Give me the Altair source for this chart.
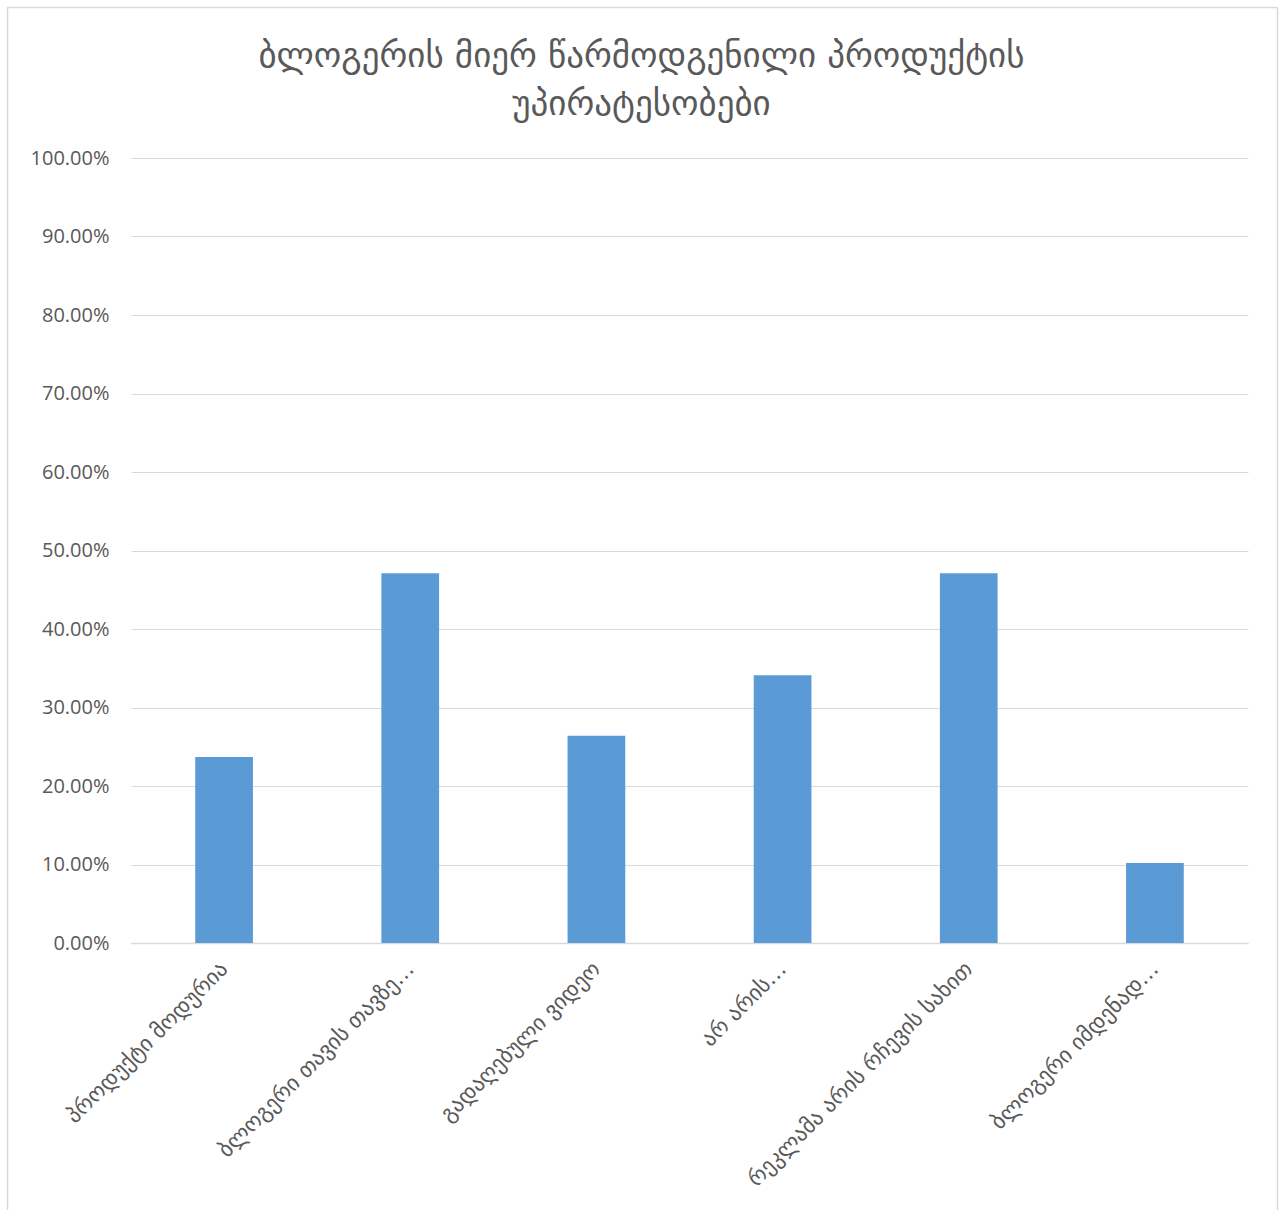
import altair as alt
import pandas as pd

title_lines = ["ბლოგერის მიერ წარმოდგენილი პროდუქტის", "უპირატესობები"]
categories = [
    "პროდუქტი მოდურია",
    "ბლოგერი თავის თავზე…",
    "გადაღებული ვიდეო",
    "არ არის…",
    "რეკლამა არის რჩევის სახით",
    "ბლოგერი იმდენად…",
]
values = [0.237, 0.471, 0.264, 0.341, 0.471, 0.102]

df = pd.DataFrame({"category": categories, "value": values})

GEO_FONT = "DejaVu Sans"
NUM_FONT = "Open Sans"
GRAY = "#595959"
PLOT_W, PLOT_H = 1117, 785
PAD = {"left": 131, "top": 158, "right": 40, "bottom": 267}

bars = (
    alt.Chart(df)
    .mark_bar(color="#5B9BD5")
    .encode(
        x=alt.X(
            "category:N",
            sort=categories,
            title=None,
            scale=alt.Scale(paddingInner=0.69, paddingOuter=0.345),
            axis=alt.Axis(
                labelAngle=-45,
                labelAlign="right",
                labelBaseline="middle",
                labelFont=GEO_FONT,
                labelFontSize=22,
                labelColor=GRAY,
                labelPadding=22,
                labelLimit=500,
                ticks=False,
                domainColor="#d9d9d9",
                domainWidth=1.5,
                grid=False,
            ),
        ),
        y=alt.Y(
            "value:Q",
            title=None,
            scale=alt.Scale(domain=[0, 1]),
            axis=alt.Axis(
                format=".2%",
                values=[i / 10 for i in range(11)],
                labelFont=NUM_FONT,
                labelFontSize=20,
                labelColor=GRAY,
                labelPadding=22,
                ticks=False,
                domain=False,
                gridColor="#d9d9d9",
                gridWidth=1.2,
            ),
        ),
    )
)

# outer chart-area frame (decoration, in pixels relative to the plot area)
frame = (
    alt.Chart(pd.DataFrame({"k": [0]}))
    .mark_rect(filled=False, stroke="#d9d9d9", strokeWidth=1.5)
    .encode(
        x=alt.value(7.5 - PAD["left"]),
        x2=alt.value(1277.5 - PAD["left"]),
        y=alt.value(7.5 - PAD["top"]),
        y2=alt.value(1230 - PAD["top"]),
    )
)

chart = (
    alt.layer(frame, bars)
    .properties(
        width=PLOT_W,
        height=PLOT_H,
        autosize=alt.AutoSizeParams(type="none"),
        padding=PAD,
        title=alt.TitleParams(
            text=title_lines,
            font=GEO_FONT,
            fontSize=35,
            fontWeight="normal",
            color=GRAY,
            anchor="middle",
            frame="group",
            dx=-48,
            lineHeight=48,
            offset=-115,
        ),
        background="white",
    )
    .configure_view(stroke=None)
)

chart.save("out.html", embed_options={"renderer": "svg", "actions": False})
